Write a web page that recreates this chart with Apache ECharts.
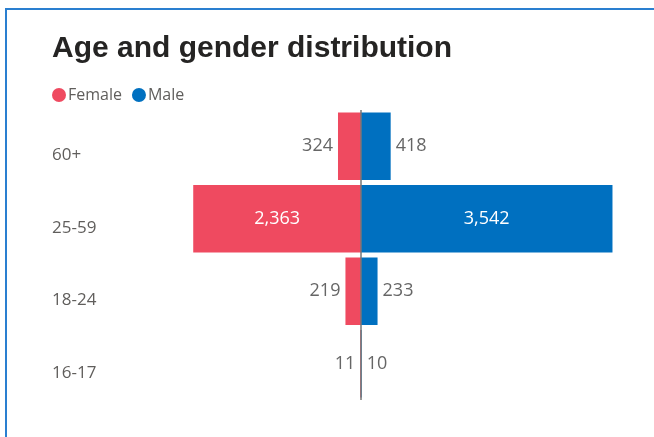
<!DOCTYPE html>
<html>
<head>
<meta charset="utf-8">
<title>Age and gender distribution</title>
<script src="https://cdn.jsdelivr.net/npm/echarts@6/dist/echarts.min.js"></script>
<style>
  html, body { margin: 0; padding: 0; background: #fff; }
  #main { position: absolute; left: 0; top: 0; width: 654px; height: 437px; }
  #frame {
    position: absolute; left: 5px; top: 8px; width: 660px; height: 440px;
    border-top: 2px solid #2a7fd0; border-left: 2px solid #2a7fd0;
    pointer-events: none;
  }
</style>
</head>
<body>
<div id="main"></div>
<div id="frame"></div>
<script>
var ageGroups = ['60+', '25-59', '18-24', '16-17'];
var female = [324, 2363, 219, 11];
var male = [418, 3542, 233, 10];

var chart = echarts.init(document.getElementById('main'));

function fmt(v) {
  return Math.abs(v).toLocaleString('en-US');
}

// 大的柱子标签放在里面, 小的放在外面
function makeData(values, sign, outside) {
  return values.map(function (v) {
    var big = v > 1000;
    return {
      value: sign * v,
      label: {
        position: big ? 'inside' : outside,
        color: big ? '#fff' : '#666'
      }
    };
  });
}

var option = {
  title: {
    text: 'Age and gender distribution',
    left: 47,
    top: 29,
    textStyle: {
      fontFamily: 'Liberation Sans, Arial, sans-serif',
      fontWeight: 'bold',
      fontSize: 30,
      color: '#252423'
    }
  },
  legend: {
    data: ['Female', 'Male'],
    left: 47,
    top: 82,
    icon: 'circle',
    itemWidth: 14,
    itemHeight: 14,
    itemGap: 10,
    textStyle: { fontFamily: 'Open Sans', fontSize: 16, color: '#605e5c', padding: [0, 0, 0, -3] }
  },
  grid: { left: 77, top: 110, width: 568, height: 290, containLabel: false },
  xAxis: {
    type: 'value',
    min: -4000,
    max: 4000,
    show: false
  },
  yAxis: {
    type: 'category',
    data: ageGroups,
    inverse: true,
    axisLine: { show: false },
    axisTick: { show: false },
    axisLabel: {
      align: 'left',
      margin: 25,
      verticalAlign: 'top',
      lineHeight: 18,
      fontFamily: 'Open Sans',
      fontSize: 17,
      color: '#605e5c'
    }
  },
  series: [
    {
      name: 'Female',
      type: 'bar',
      stack: 'all',
      barCategoryGap: '7%',
      itemStyle: { color: '#ef4a60' },
      label: {
        show: true,
        distance: 5,
        fontFamily: 'Open Sans',
        fontSize: 18,
        formatter: function (p) { return fmt(p.value); }
      },
      data: makeData(female, -1, 'left'),
      markLine: {
        silent: true,
        symbol: 'none',
        label: { show: false },
        lineStyle: { color: '#777', width: 1.5, type: 'solid' },
        data: [{ xAxis: 0 }]
      }
    },
    {
      name: 'Male',
      type: 'bar',
      stack: 'all',
      barCategoryGap: '7%',
      itemStyle: { color: '#0070c0' },
      label: {
        show: true,
        distance: 5,
        fontFamily: 'Open Sans',
        fontSize: 18,
        formatter: function (p) { return fmt(p.value); }
      },
      data: makeData(male, 1, 'right')
    }
  ]
};

chart.setOption(option);
</script>
</body>
</html>
